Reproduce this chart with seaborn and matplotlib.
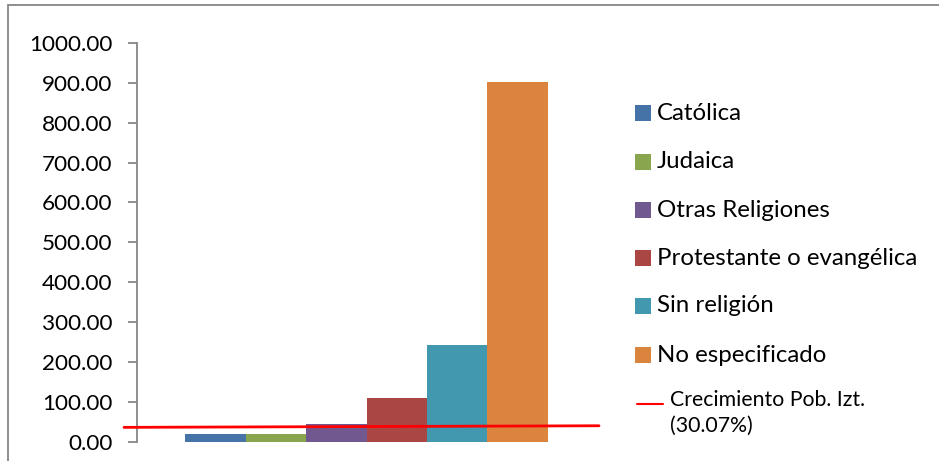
import matplotlib
matplotlib.use("Agg")
import matplotlib.pyplot as plt
from matplotlib.patches import Rectangle
from matplotlib.lines import Line2D
import seaborn as sns
import pandas as pd

# ---- data ----
categorias = ["Católica", "Judaica", "Otras Religiones",
              "Protestante o evangélica", "Sin religión", "No especificado"]
valores = [18.0, 18.0, 45.0, 110.0, 241.0, 901.0]
colores = ["#4572A7", "#89A54E", "#71588F", "#AA4643", "#4198AF", "#DB843D"]
linea_etiqueta = "Crecimiento Pob. Izt.\n(30.07%)"
linea_y = [35.5, 39.5]          # red reference line as drawn (left, right)
yticks = [0, 100, 200, 300, 400, 500, 600, 700, 800, 900, 1000]

df = pd.DataFrame({"religion": categorias, "valor": valores})

sns.set_theme(style="white")
plt.rcParams["font.family"] = ["Lato", "DejaVu Sans"]

W, H = 939, 461
fig = plt.figure(figsize=(W / 100, H / 100), dpi=100)

def fx(px):
    return px / W

def fy(py):
    return 1 - py / H

ax_left, ax_right, ax_top, ax_bot = 137, 600, 43, 441.5
ax = fig.add_axes([fx(ax_left), fy(ax_bot), fx(ax_right - ax_left), (ax_bot - ax_top) / H])

sns.barplot(data=df, x="religion", y="valor", hue="religion", palette=colores,
            width=1.0, dodge=False, legend=False, ax=ax, saturation=1,
            linewidth=0, edgecolor="none")

unit = (548 - 185) / len(categorias)
xl = -0.5 - (185 - ax_left) / unit
xr = xl + (ax_right - ax_left) / unit
ax.set_xlim(xl, xr)
ax.set_ylim(0, 1000)
ax.set_yticks(yticks)
ax.set_yticklabels([f"{v:.2f}" for v in yticks])
ax.set_xticks([])
ax.set_xlabel("")
ax.set_ylabel("")

for s in ["top", "right", "bottom"]:
    ax.spines[s].set_visible(False)
ax.spines["left"].set_color("#868686")
ax.spines["left"].set_linewidth(1.3)
ax.tick_params(axis="y", direction="out", length=6.5, width=1.3, color="#868686",
               labelsize=16.2, labelcolor="black", pad=11, left=True)

# red growth line (extends slightly left of the axis)
x0 = xl - (ax_left - 124) / unit
x1 = xl + (599 - ax_left) / unit
ax.plot([x0, x1], linea_y, color="#FF0000", lw=2, clip_on=False, zorder=5)

# outer chart border
fig.add_artist(Rectangle((fx(8), fy(470)), fx(940), (470 - 5) / H, fill=False,
                         edgecolor="#868686", lw=1.3, transform=fig.transFigure))

# legend (manual, matching Excel layout)
leg_y = [113, 162, 210, 258, 306, 355]
sq = 16
for name, col, yy in zip(categorias, colores, leg_y):
    fig.add_artist(Rectangle((fx(635), fy(yy + sq / 2)), fx(sq), sq / H,
                             facecolor=col, edgecolor="none", transform=fig.transFigure))
    fig.text(fx(657), fy(yy), name, fontsize=17.3, va="center", ha="left", color="black")

fig.add_artist(Line2D([fx(637), fx(663)], [fy(404), fy(404)], color="#FF0000", lw=1.5,
                      transform=fig.transFigure))
fig.text(fx(670), fy(413), linea_etiqueta, fontsize=15.3, va="center", ha="left",
         linespacing=1.4, color="black")

fig.savefig("out.png", dpi=100)
